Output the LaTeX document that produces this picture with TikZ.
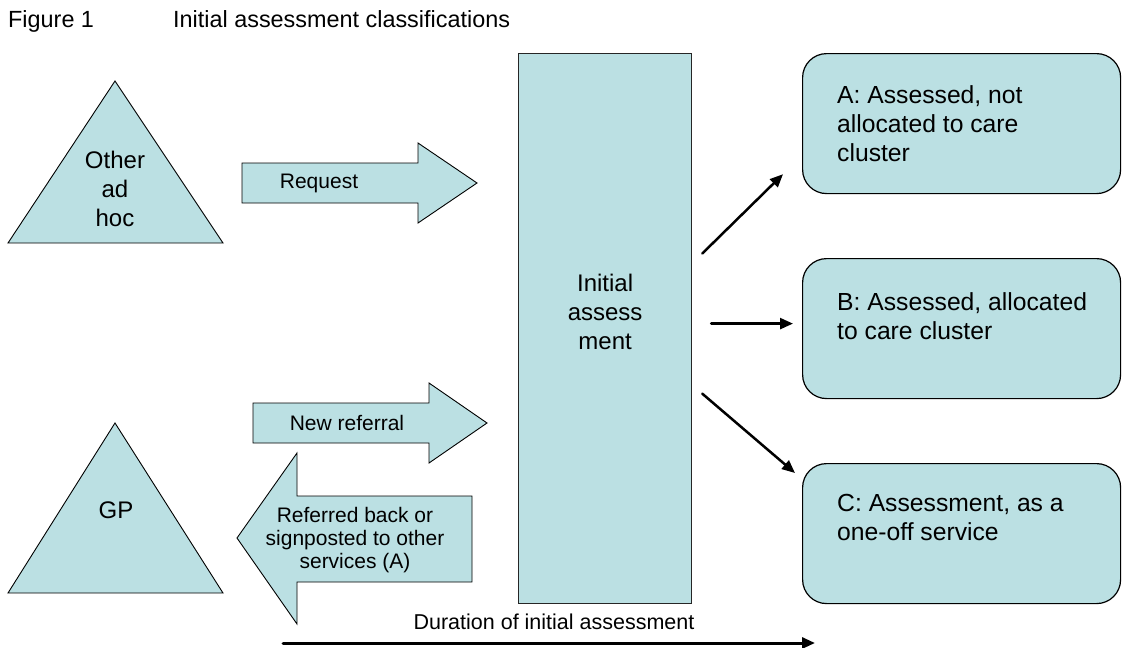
\documentclass[tikz,border=0pt]{standalone}
\usepackage{fontspec}
\setmainfont{Liberation Sans}
\usepackage{tikz}
\usetikzlibrary{arrows.meta,positioning}
\definecolor{paleblue}{RGB}{187,224,227}

\begin{document}
\begin{tikzpicture}[line cap=round,line join=miter,>={Triangle[length=13pt,width=11pt]},x=1pt,y=-1pt,
  blockshape/.style={fill=paleblue,draw=black,line width=0.9pt},
  mainbox/.style={rectangle,fill=paleblue,draw=black!85,line width=1.2pt},
  outbox/.style={rectangle,rounded corners=24pt,fill=paleblue,draw=black,line width=1.2pt,minimum width=318pt,minimum height=140pt},
  titletxt/.style={inner sep=0pt,font=\fontsize{23.4}{28}\selectfont},
  bigtxt/.style={inner sep=0pt,align=center,font=\fontsize{24}{29}\selectfont},
  boxtxt/.style={inner sep=0pt,align=left,font=\fontsize{24.7}{29}\selectfont},
  arrowtxt/.style={inner sep=0pt,align=center,font=\fontsize{21}{23.3}\selectfont},
  conn/.style={->,line width=2.5pt}]
\useasboundingbox (0,0) rectangle (1122,648);

% heading
\node[titletxt,anchor=base west] (fig) at (8,27) {Figure 1};
\node[titletxt,anchor=base west] (title) at (173,27) {Initial assessment classifications};

% where requests come from
\draw[blockshape] (115,81) -- (223,243) -- (8,243) -- cycle;
\node[bigtxt] (other) at (115,189) {Other\\ad\\hoc};
\draw[blockshape] (115,423) -- (223,593) -- (8,593) -- cycle;
\node[bigtxt] (gp) at (116,510) {GP};

% block arrows
\draw[blockshape] (242,163) -- (418,163) -- (418,143) -- (477,183) -- (418,223) -- (418,203) -- (242,203) -- cycle;
\node[arrowtxt] (req) at (319,183) {Request};
\draw[blockshape] (253,403) -- (429,403) -- (429,383) -- (487,423) -- (429,463) -- (429,443) -- (253,443) -- cycle;
\node[arrowtxt] (newref) at (347,423) {New referral};
\draw[blockshape] (472,496) -- (297,496) -- (297,453) -- (237,538) -- (297,624) -- (297,582) -- (472,582) -- cycle;
\node[arrowtxt] (back) at (355,540) {Referred back or\\signposted to other\\services (A)};

% initial assessment
\node[mainbox,minimum width=173pt,minimum height=550pt,anchor=north west] (init) at (518,53) {};
\node[bigtxt] (initlbl) at ([yshift=17pt]init.center) {Initial\\assess\\ment};

% outcomes
\node[outbox,anchor=north west] (boxA) at (802,53) {};
\node[outbox,anchor=north west] (boxB) at (802,258) {};
\node[outbox,anchor=north west] (boxC) at (802,463) {};
\node[boxtxt,below right=32pt and 35pt of boxA.north west] (txtA) {A: Assessed, not\\allocated to care\\cluster};
\node[boxtxt,below right=34pt and 35pt of boxB.north west] (txtB) {B: Assessed, allocated\\to care cluster};
\node[boxtxt,below right=31pt and 35pt of boxC.north west] (txtC) {C: Assessment, as a\\one-off service};

\draw[conn] ([shift={(10pt,75pt)}]init.east) -- ([shift={(-19pt,20pt)}]boxA.south west);
\draw[conn] ([shift={(19pt,5pt)}]init.east) -- ([shift={(-9pt,5pt)}]boxB.west);
\draw[conn] ([shift={(10pt,-65pt)}]init.east) -- ([shift={(-7pt,-10pt)}]boxC.north west);

% time line
\node[arrowtxt,font=\fontsize{21.5}{26}\selectfont] (dur) at (554,622) {Duration of initial assessment};
\coordinate (dstart) at (283,643);
\coordinate (dend) at (815,643);
\draw[conn,line width=3pt] (dstart) -- (dend);
\end{tikzpicture}
\end{document}
